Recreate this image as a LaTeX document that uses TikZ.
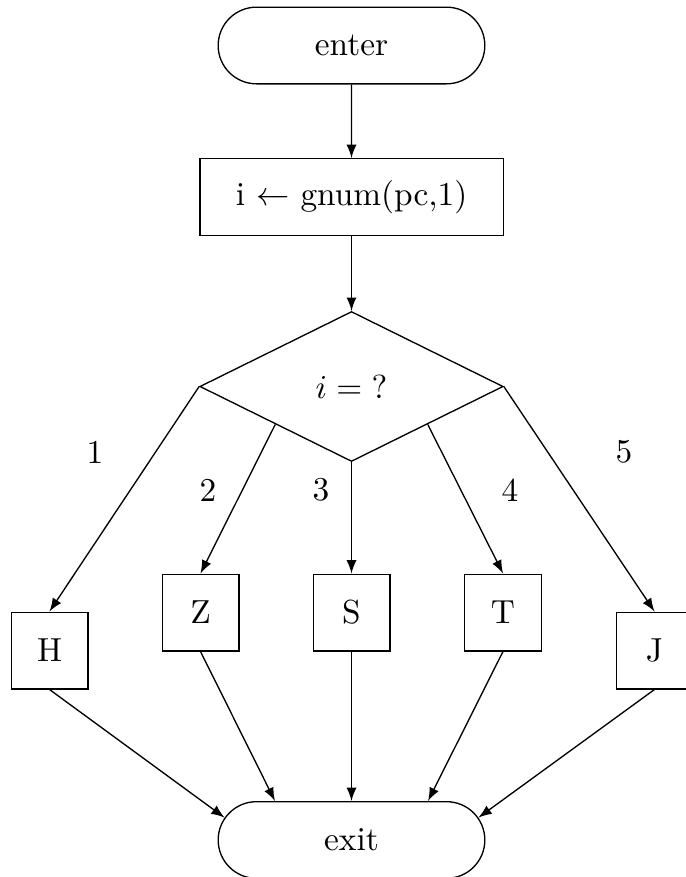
\documentclass[tikz,border=0pt]{standalone}
\usetikzlibrary{shapes.geometric,shapes.misc,calc}
\begin{document}
\begin{tikzpicture}[>=latex, x=0.3pt, y=-0.3pt,
		term/.style={draw, rounded rectangle, minimum width=80pt, minimum height=23pt, inner sep=0pt},
		proc/.style={draw, rectangle, minimum width=91pt, minimum height=23pt, inner sep=0pt},
		dec/.style={draw, diamond, minimum width=91pt, minimum height=45pt, inner sep=0pt},
		sbox/.style={draw, rectangle, minimum size=23pt, inner sep=0pt}]
		\useasboundingbox (0,0) rectangle (686,877);
		\node[term] (enter) at (351.5,45.5) {enter};
		\node[proc] (gnum) at (351.5,197) {i $\leftarrow$ gnum(pc,1)};
		\node[dec] (test) at (351.5,386.5) {$i = \mathord{?}$};
		\node[sbox] (H) at (49.5,650.5) {H};
		\node[sbox] (Z) at (200.5,612.5) {Z};
		\node[sbox] (S) at (351.5,612.5) {S};
		\node[sbox] (T) at (503,612.5) {T};
		\node[sbox] (J) at (654.5,650.5) {J};
		\node[term] (exit) at (351.5,840) {exit};
		
		% Zweige der Fallunterscheidung
		\node (lab1) at (95,452) {1};
		\node (lab2) at (208,490) {2};
		\node (lab3) at (321,490) {3};
		\node (lab4) at (510,490) {4};
		\node (lab5) at (624,452) {5};
		\coordinate (testsw) at ($(test.west)!0.5!(test.south)$);
		\coordinate (testse) at ($(test.east)!0.5!(test.south)$);
		
		\draw[->] (enter) -- (gnum);
		\draw[->] (gnum) -- (test);
		\draw[->] (test.west) -- (H.north);
		\draw[->] (testsw) -- (Z.north);
		\draw[->] (test.south) -- (S.north);
		\draw[->] (testse) -- (T.north);
		\draw[->] (test.east) -- (J.north);
		\draw[->] (H.south) -- (exit.170);
		\draw[->] (Z.south) -- (exit.153);
		\draw[->] (S.south) -- (exit.north);
		\draw[->] (T.south) -- (exit.27);
		\draw[->] (J.south) -- (exit.10);
\end{tikzpicture}
\end{document}
